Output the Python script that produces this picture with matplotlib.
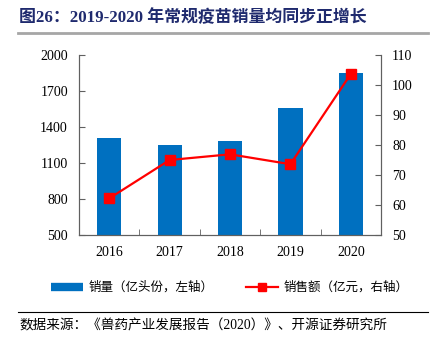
import matplotlib
matplotlib.use("Agg")
import matplotlib.pyplot as plt
from matplotlib.lines import Line2D

years = ["2016", "2017", "2018", "2019", "2020"]
volume = [1305, 1250, 1282, 1556, 1848]      # 亿头份
sales = [62.2, 75.0, 76.9, 73.6, 103.7]      # 亿元

FAM = ["Liberation Serif", "Noto Sans CJK SC"]
BLUE = "#0070C0"
RED = "#FF0000"

fig = plt.figure(figsize=(4.33, 3.49), dpi=100)
ax = fig.add_axes([0.1824, 0.3266, 0.6976, 0.5158])
x = list(range(len(years)))
ax.bar(x, volume, width=0.4, color=BLUE, zorder=2)
ax.set_xlim(-0.5, 4.5)
ax.set_ylim(500, 2000)
ax.set_yticks([500, 800, 1100, 1400, 1700, 2000])
ax.set_xticks(x)
ax.set_xticklabels(years)
ax.set_xticks([0.5, 1.5, 2.5, 3.5], minor=True)
ax.tick_params(axis="x", which="major", length=0, pad=8)
ax.tick_params(axis="x", which="minor", length=4, direction="in", color="#606060")
ax.tick_params(axis="y", length=4, direction="in", color="#606060", pad=8)

ax2 = ax.twinx()
ax2.plot(x, sales, color=RED, lw=1.6, marker="s", markersize=7, zorder=3)
ax2.set_ylim(50, 110)
ax2.set_yticks([50, 60, 70, 80, 90, 100, 110])
ax2.tick_params(axis="y", length=4, direction="in", color="#606060", pad=8)

for a in (ax, ax2):
    a.spines["top"].set_visible(False)
    for s in ("left", "right", "bottom"):
        a.spines[s].set_color("#606060")
        a.spines[s].set_linewidth(0.8)
    for lab in a.get_xticklabels() + a.get_yticklabels():
        lab.set_family(FAM)
        lab.set_fontsize(10)

# 标题与分隔线
fig.text(0.044, 0.948, "图26：2019-2020 年常规疫苗销量均同步正增长", family=FAM,
         fontsize=12.2, fontweight="bold", color="#1F2A6E", va="center", ha="left")
fig.add_artist(Line2D([0.042, 0.988], [0.905, 0.905], color="#A6A6A6", lw=2))

handles = [Line2D([], [], color=BLUE, lw=6, solid_capstyle="butt"),
           Line2D([], [], color=RED, lw=1.6, marker="s", markersize=6)]
fig.legend(handles, ["销量（亿头份，左轴）", "销售额（亿元，右轴）"],
           loc="center", bbox_to_anchor=(0.53, 0.175), ncol=2, frameon=False,
           prop={"family": FAM, "size": 9}, handlelength=2.6,
           columnspacing=2.6, handletextpad=0.4)

fig.add_artist(Line2D([0.042, 0.988], [0.106, 0.106], color="black", lw=0.8))
fig.text(0.044, 0.066, "数据来源：《兽药产业发展报告（2020）》、开源证券研究所",
         family=FAM, fontsize=9.8, va="center", ha="left")

fig.savefig("out.png", dpi=100)
